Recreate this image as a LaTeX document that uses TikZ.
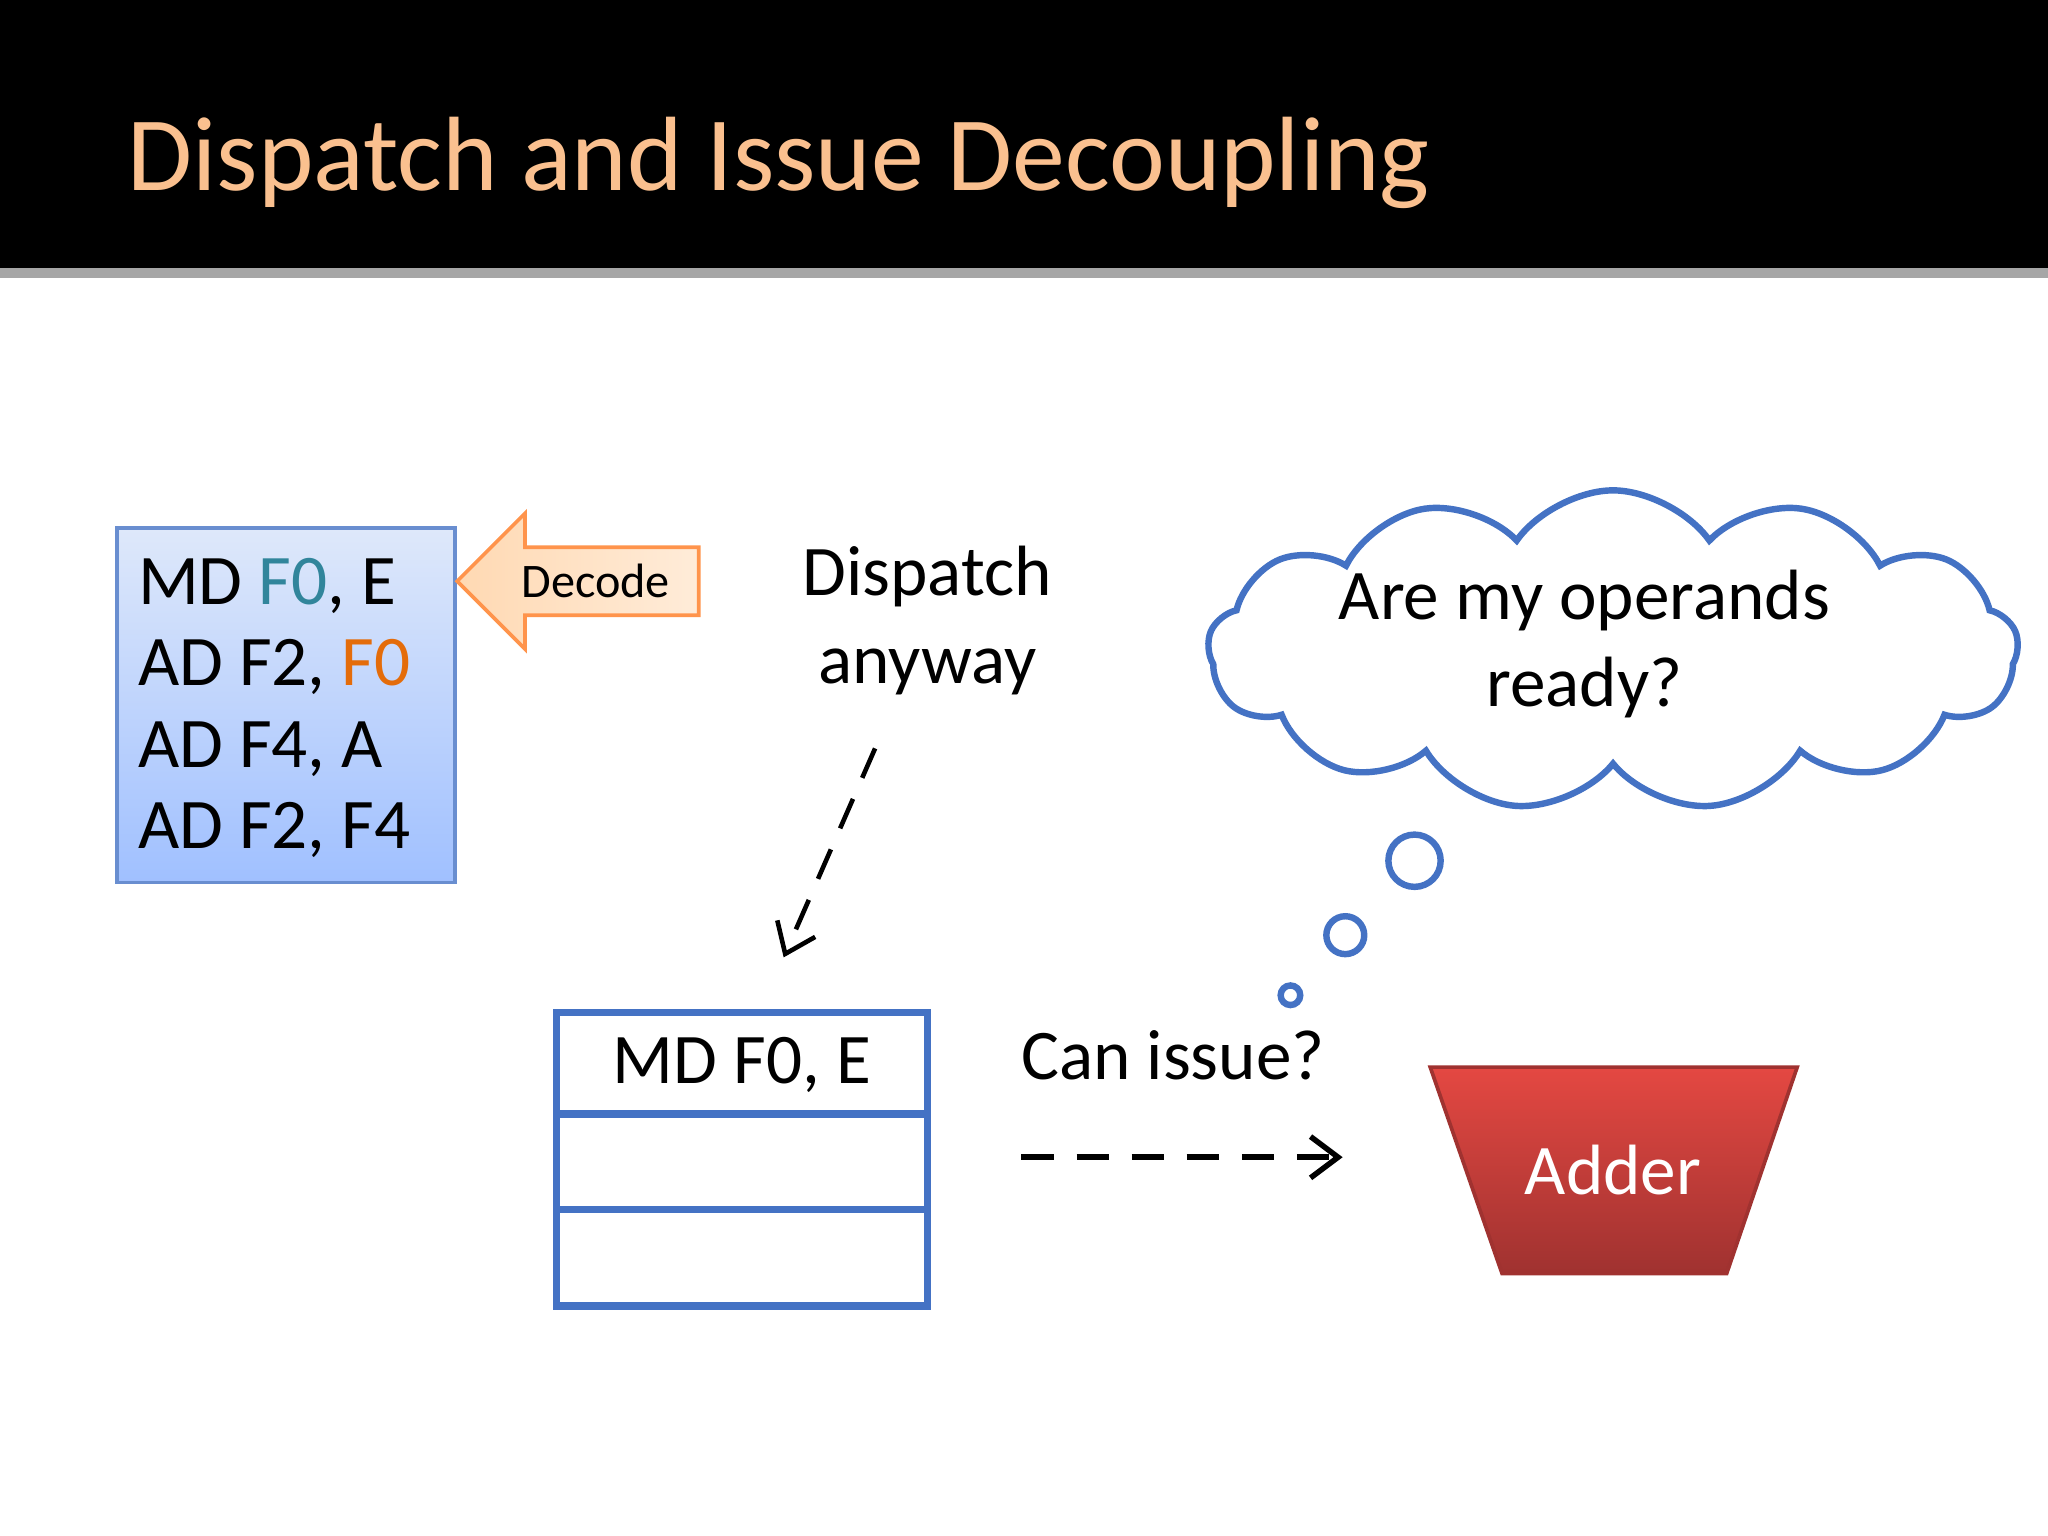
\documentclass[tikz,border=0pt]{standalone}
\usepackage{fontspec}
\setmainfont{Carlito}
\usepackage{tikz}
\usetikzlibrary{shapes,positioning,arrows.meta}
\definecolor{titlepeach}{RGB}{250,192,143}
\definecolor{boxline}{RGB}{68,114,196}
\definecolor{regblue}{RGB}{49,133,155}
\definecolor{regorange}{RGB}{228,108,10}
\definecolor{progtop}{RGB}{222,232,250}
\definecolor{progbot}{RGB}{160,192,255}
\definecolor{addtop}{RGB}{228,72,66}
\definecolor{addbot}{RGB}{160,50,48}
\tikzset{
  body/.style={font=\fontsize{15.5}{18}\selectfont},
  codeline/.style={body,anchor=base west,inner sep=0pt},
  dasharrow/.style={-{Straight Barb[length=6pt,width=9pt]},dashed,line width=1.2pt,dash pattern=on 7pt off 5pt},
  bubble/.style={circle,draw=boxline,line width=1.4pt,fill=white,inner sep=0pt}
}
\begin{document}
\begin{tikzpicture}[x=0.01cm,y=-0.01cm]
\useasboundingbox (0,0) rectangle (1568,1176);
\fill[white] (0,0) rectangle (1568,1176);

% title bar
\fill[black] (0,0) rectangle (1568,205);
\fill[black!35] (0,205) rectangle (1568,213);
\node[anchor=base west,text=titlepeach,font=\fontsize{23}{28}\selectfont,inner sep=0pt] (title) at (97,146) {Dispatch and Issue Decoupling};

% instruction list
\node[draw=boxline!80,line width=0.8pt,top color=progtop,bottom color=progbot,
  anchor=north west,minimum width=2.59cm,minimum height=2.71cm] (prog) at (88,403) {};
\node[codeline] (l1) at (105,463) {MD \textcolor{regblue}{F0}, E};
\node[codeline] (l2) at (105,525) {AD F2, \textcolor{regorange}{F0}};
\node[codeline] (l3) at (105,588) {AD F4, A};
\node[codeline] (l4) at (105,650) {AD F2, F4};

% decode arrow
\draw[draw=orange!80!red!70,line width=0.8pt,left color=orange!30,right color=orange!15]
  (350,445) -- (402,393) -- (402,419) -- (535,419) -- (535,471) -- (402,471) -- (402,497) -- cycle;
\node[font=\fontsize{10.5}{13}\selectfont] (decode) at (456,445) {Decode};

% dispatch
\node[body,align=center] (dispatch) at (710,475) {Dispatch\\[1pt]anyway};
\coordinate (dstart) at (670,573);
\coordinate (dend) at (600,733);
\draw[dasharrow,line width=1pt] (dstart) -- (dend);

% issue queue
\draw[boxline,line width=1.6pt] (426,775) rectangle (710,1000);
\draw[boxline,line width=1.6pt] (426,853) -- (710,853) (426,926) -- (710,926);
\node[body] (entry) at (568,815) {MD F0, E};

% can issue
\node[body] (canissue) at (898,808) {Can issue?};
\coordinate (istart) at (782,886);
\coordinate (iend) at (1028,886);
\draw[dasharrow] (istart) -- (iend);

% adder
\shade[top color=addtop,bottom color=addbot,draw=addbot,line width=0.8pt]
  (1095,817) -- (1376,817) -- (1322,975) -- (1150,975) -- cycle;
\node[body,text=white] (adder) at (1235,896) {Adder};

% thought cloud
\node[cloud,cloud puffs=13,cloud puff arc=110,aspect=2.6,draw=boxline,line width=1.4pt,
  minimum width=6.2cm,minimum height=2.45cm] (cloud) at (1235,498) {};
\node[body,align=center] (question) at (1213,493) {Are my operands\\[1pt]ready?};
\node[bubble,minimum size=0.4cm] (b1) at (1083,659) {};
\node[bubble,minimum size=0.29cm] (b2) at (1030,716) {};
\node[bubble,minimum size=0.15cm] (b3) at (988,762) {};
\end{tikzpicture}
\end{document}
